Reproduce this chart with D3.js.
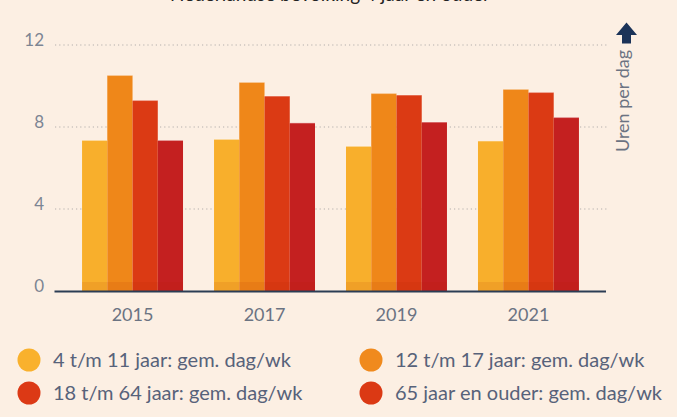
<!DOCTYPE html>
<html>
<head>
<meta charset="utf-8">
<script src="https://cdn.jsdelivr.net/npm/d3@7"></script>
<style>
  html, body { margin: 0; padding: 0; background: #fcefe3; }
  svg { display: block; font-family: Lato, sans-serif; }
</style>
</head>
<body>
<svg id="chart" width="677" height="417"></svg>
<script>
// data
const years = ['2015', '2017', '2019', '2021']
const seriesNames = [
  '4 t/m 11 jaar: gem. dag/wk',
  '12 t/m 17 jaar: gem. dag/wk',
  '18 t/m 64 jaar: gem. dag/wk',
  '65 jaar en ouder: gem. dag/wk',
]
const age4to11 = [7.35, 7.4, 7.06, 7.32]
const age12to17 = [10.52, 10.18, 9.64, 9.84]
const age18to64 = [9.3, 9.51, 9.56, 9.69]
const age65plus = [7.35, 8.2, 8.24, 8.47]
const yTicks = [0, 4, 8, 12]

const seriesValues = [age4to11, age12to17, age18to64, age65plus]
const barColors = ['#f8af2c', '#ef8719', '#db3a14', '#c42020']
const legendColors = ['#f9b12d', '#f08a1d', '#dc3915', '#db3914']

const width = 677
const height = 417
const margin = { top: 45, right: 71, bottom: 126, left: 55 }

const svg = d3.select('#chart')

svg
  .append('rect')
  .attr('width', width)
  .attr('height', height)
  .attr('fill', '#fcefe3')

// title, cut off at top like in the original
svg
  .append('text')
  .attr('x', 330)
  .attr('y', 1)
  .attr('text-anchor', 'middle')
  .attr('font-size', 19)
  .attr('fill', '#222')
  .text('Nederlandse bevolking 4 jaar en ouder')

const x0 = d3
  .scaleBand()
  .domain(years)
  .range([margin.left, width - margin.right])
  .paddingInner(0.235)
  .paddingOuter(0.205)

const x1 = d3
  .scaleBand()
  .domain(d3.range(seriesNames.length))
  .range([0, x0.bandwidth()])

const y = d3
  .scaleLinear()
  .domain([0, 12])
  .range([height - margin.bottom, margin.top])

// grid
svg
  .append('g')
  .attr('id', 'grid')
  .selectAll('line')
  .data(yTicks.filter((d) => d > 0))
  .join('line')
  .attr('x1', margin.left)
  .attr('x2', 608)
  .attr('y1', (d) => y(d))
  .attr('y2', (d) => y(d))
  .attr('stroke', '#b3b0ad')
  .attr('stroke-width', 1.2)
  .attr('stroke-dasharray', '1.2,3')

// y labels
svg
  .append('g')
  .selectAll('text')
  .data(yTicks)
  .join('text')
  .attr('x', 44)
  .attr('y', (d) => y(d) + 1)
  .attr('text-anchor', 'end')
  .attr('font-size', 17)
  .attr('fill', '#7d8593')
  .text((d) => d)

// bars
const rows = []
years.forEach((yr, i) => {
  seriesValues.forEach((vals, s) => rows.push({ year: yr, s: s, v: vals[i] }))
})

const bars = svg.append('g').attr('id', 'bars')

bars
  .selectAll('rect.bar')
  .data(rows)
  .join('rect')
  .attr('class', 'bar')
  .attr('x', (d) => x0(d.year) + x1(d.s))
  .attr('width', x1.bandwidth())
  .attr('y', (d) => y(d.v))
  .attr('height', (d) => y(0) - y(d.v))
  .attr('fill', (d) => barColors[d.s])

// light edge on top of bars
bars
  .selectAll('rect.top')
  .data(rows)
  .join('rect')
  .attr('class', 'top')
  .attr('x', (d) => x0(d.year) + x1(d.s))
  .attr('width', x1.bandwidth())
  .attr('y', (d) => y(d.v) - 0.5)
  .attr('height', 1.2)
  .attr('fill', '#fff')
  .attr('opacity', 0.35)

// darker strip at the bottom
bars
  .selectAll('rect.foot')
  .data(years)
  .join('rect')
  .attr('class', 'foot')
  .attr('x', (d) => x0(d))
  .attr('width', x0.bandwidth())
  .attr('y', y(0) - 9)
  .attr('height', 9)
  .attr('fill', '#b02000')
  .attr('opacity', 0.1)

// baseline
svg
  .append('line')
  .attr('x1', 54.5)
  .attr('x2', 606)
  .attr('y1', y(0) + 0.5)
  .attr('y2', y(0) + 0.5)
  .attr('stroke', '#2b3d55')
  .attr('stroke-width', 2.2)

// x labels
svg
  .append('g')
  .selectAll('text')
  .data(years)
  .join('text')
  .attr('x', (d) => x0(d) + x0.bandwidth() / 2)
  .attr('y', 321)
  .attr('text-anchor', 'middle')
  .attr('font-size', 18)
  .attr('fill', '#6b7382')
  .text((d) => d)

// right axis title with arrow
svg
  .append('path')
  .attr('d', 'M626.5,22.5 L637,35 L631,35 L631,43.5 L622,43.5 L622,35 L616,35 Z')
  .attr('fill', '#1b3358')

svg
  .append('text')
  .attr('transform', 'translate(629,101) rotate(-90)')
  .attr('text-anchor', 'middle')
  .attr('font-size', 18)
  .attr('fill', '#6b7382')
  .text('Uren per dag')

// legend
const legendPos = [
  [29, 360],
  [371, 360],
  [29, 393],
  [371, 393],
]
const legend = svg
  .append('g')
  .attr('id', 'legend')
  .selectAll('g')
  .data(seriesNames)
  .join('g')
  .attr('transform', (d, i) => `translate(${legendPos[i][0]},${legendPos[i][1]})`)

legend
  .append('ellipse')
  .attr('rx', 11.5)
  .attr('ry', 11.5)
  .attr('fill', (d, i) => legendColors[i])

legend
  .append('text')
  .attr('x', 24)
  .attr('y', 7)
  .attr('font-size', 20)
  .attr('fill', '#57627a')
  .text((d) => d)
</script>
</body>
</html>
